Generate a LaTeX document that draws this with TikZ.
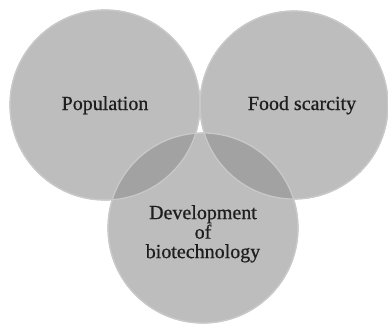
\documentclass[tikz,border=0pt]{standalone}
\usepackage{fontspec}
\setmainfont{Liberation Serif}
\newfontfamily\lblfont{Liberation Serif}[FakeBold=0.7]
\definecolor{circfill}{HTML}{BDBDBD}
\definecolor{lensfill}{HTML}{A2A2A2}
\definecolor{circedge}{HTML}{C9C9C9}
\definecolor{txt}{HTML}{1E1E1E}
\begin{document}
\begin{tikzpicture}[x=1pt,y=-1pt,
  circ/.style={fill=circfill,draw=circedge,line width=1.2pt},
  lbl/.style={font=\lblfont\fontsize{20}{19.5}\selectfont,text=txt,align=center,inner sep=0pt}]
\useasboundingbox (0,0) rectangle (388,325);
\coordinate (cL) at (105,105);
\coordinate (cR) at (294,105);
\coordinate (cB) at (203,228);
\fill[circ] (cL) circle (95);
\fill[circ] (cR) circle (94);
\fill[circ] (cB) circle (95);
\begin{scope}
  \clip (cL) circle (95);
  \fill[lensfill] (cB) circle (95);
\end{scope}
\begin{scope}
  \clip (cR) circle (94);
  \fill[lensfill] (cB) circle (95);
\end{scope}
\draw[circedge,line width=1.2pt] (cL) circle (95);
\draw[circedge,line width=1.2pt] (cR) circle (94);
\draw[circedge,line width=1.2pt] (cB) circle (95);
\node[lbl,anchor=base] (pop) at (105,110) {Population};
\node[lbl,anchor=base] (food) at (302,110) {Food scarcity};
\node[lbl,anchor=north] (dev) at (203,205) {Development\\of\\biotechnology};
\end{tikzpicture}
\end{document}
